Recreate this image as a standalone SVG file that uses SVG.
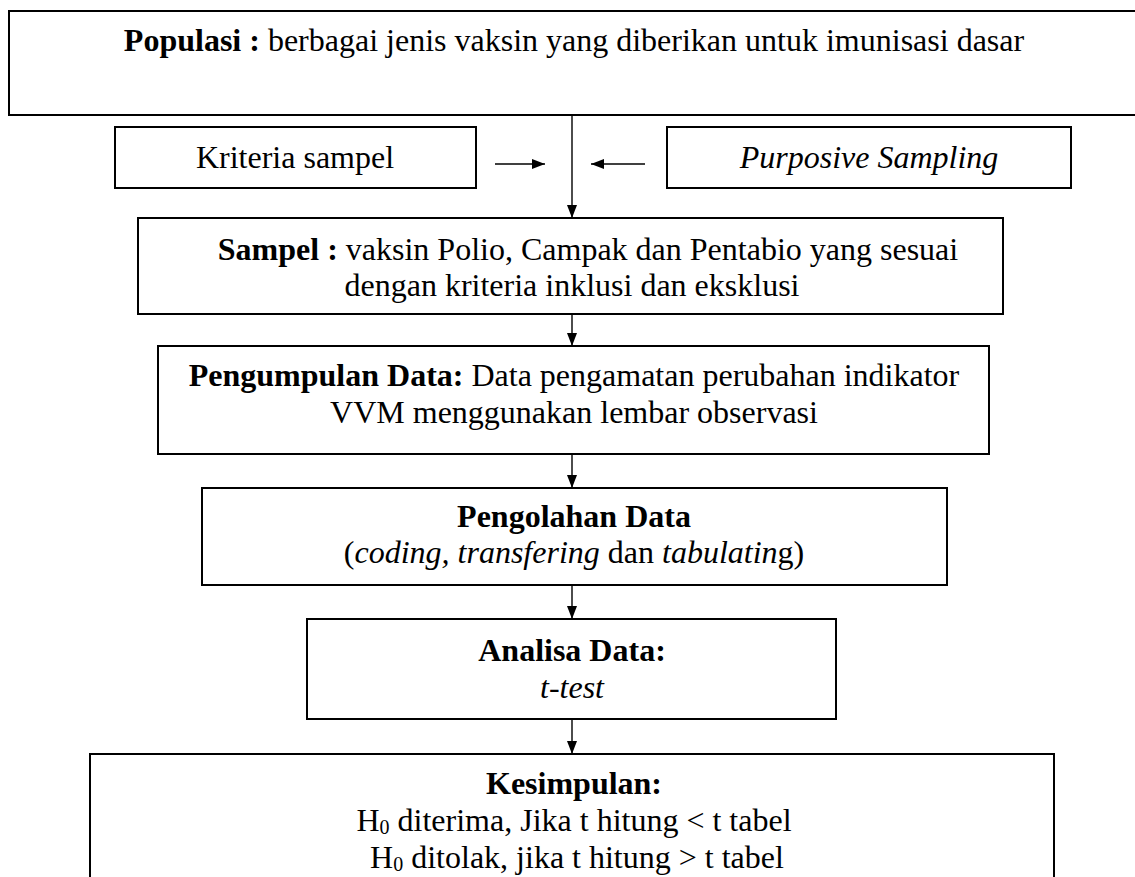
<svg xmlns="http://www.w3.org/2000/svg" width="1135" height="877" viewBox="0 0 1135 877">
<style>
.box{fill:#fff;stroke:#000;stroke-width:2}
.t{font-family:"Liberation Serif","Times New Roman",serif;font-size:32px;fill:#000;text-anchor:middle}
.b{font-weight:bold}
.i{font-style:italic}
.c{stroke:#000;stroke-width:1.4;fill:none}
</style>
<defs>
<marker id="ah" viewBox="0 0 13 10" refX="13" refY="5" markerWidth="13" markerHeight="10" markerUnits="userSpaceOnUse" orient="auto">
<path d="M0,0 L13,5 L0,10 z" fill="#000"/>
</marker>
</defs>
<rect width="1135" height="877" fill="#fff"/>
<g id="connectors">
<line class="c" x1="572" y1="115" x2="572" y2="218" marker-end="url(#ah)"/>
<line class="c" x1="495" y1="164" x2="545" y2="164" marker-end="url(#ah)"/>
<line class="c" x1="645" y1="164" x2="591" y2="164" marker-end="url(#ah)"/>
<line class="c" x1="572" y1="314" x2="572" y2="346" marker-end="url(#ah)"/>
<line class="c" x1="572" y1="454" x2="572" y2="488" marker-end="url(#ah)"/>
<line class="c" x1="572" y1="585" x2="572" y2="619" marker-end="url(#ah)"/>
<line class="c" x1="572" y1="719" x2="572" y2="754" marker-end="url(#ah)"/>
</g>
<g id="populasi">
<rect class="box" x="9" y="11" width="1140" height="104"/>
<text class="t" x="574" y="51"><tspan class="b">Populasi :</tspan> berbagai jenis vaksin yang diberikan untuk imunisasi dasar</text>
</g>
<g id="kriteria">
<rect class="box" x="115" y="127" width="361" height="61"/>
<text class="t" x="295" y="168">Kriteria sampel</text>
</g>
<g id="purposive">
<rect class="box" x="667" y="127" width="404" height="61"/>
<text class="t i" x="869" y="168">Purposive Sampling</text>
</g>
<g id="sampel">
<rect class="box" x="138" y="218" width="865" height="96"/>
<text class="t" x="588" y="260"><tspan class="b">Sampel :</tspan> vaksin Polio, Campak dan Pentabio yang sesuai</text>
<text class="t" x="572" y="296">dengan kriteria inklusi dan eksklusi</text>
</g>
<g id="pengumpulan">
<rect class="box" x="158" y="346" width="831" height="108"/>
<text class="t" x="574" y="386"><tspan class="b">Pengumpulan Data:</tspan> Data pengamatan perubahan indikator</text>
<text class="t" x="574" y="423">VVM menggunakan lembar observasi</text>
</g>
<g id="pengolahan">
<rect class="box" x="202" y="488" width="745" height="97"/>
<text class="t b" x="574" y="527">Pengolahan Data</text>
<text class="t" x="574" y="563">(<tspan class="i">coding, transfering</tspan> dan <tspan class="i">tabulatin</tspan>g)</text>
</g>
<g id="analisa">
<rect class="box" x="307" y="619" width="529" height="100"/>
<text class="t b" x="572" y="661">Analisa Data:</text>
<text class="t i" x="572" y="698">t-test</text>
</g>
<g id="kesimpulan">
<rect class="box" x="90" y="754" width="964" height="140"/>
<text class="t b" x="574" y="794">Kesimpulan:</text>
<text class="t" x="574" y="831">H<tspan font-size="20" dy="3">0</tspan><tspan dy="-3"> diterima, Jika t hitung &lt; t tabel</tspan></text>
<text class="t" x="577" y="868">H<tspan font-size="20" dy="3">0</tspan><tspan dy="-3"> ditolak, jika t hitung &gt; t tabel</tspan></text>
</g>
</svg>
